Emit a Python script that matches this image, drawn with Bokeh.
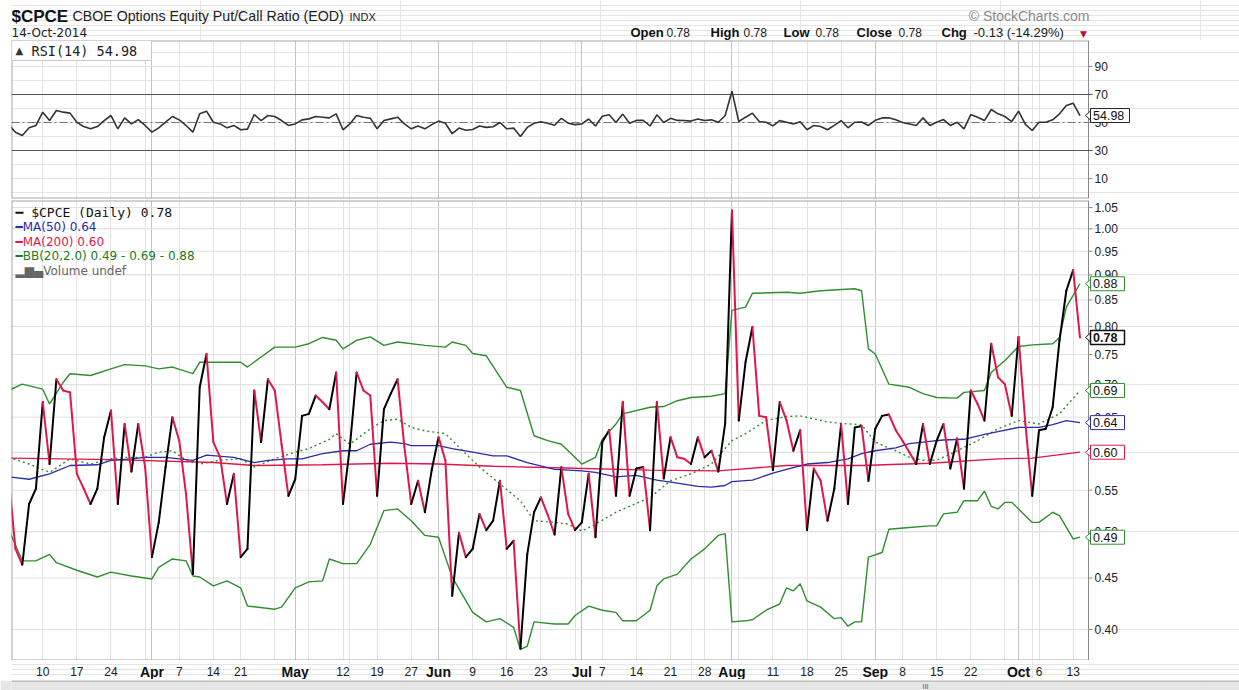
import math
import pandas as pd
from bokeh.plotting import figure
from bokeh.layouts import column
from bokeh.models import Range1d, FixedTicker, Label, Grid, LogScale
from bokeh.core.properties import value
from bokeh.embed import file_html
from bokeh.resources import INLINE

# ---------------- data ----------------
START, END = "2014-03-03", "2014-10-14"
HOLIDAYS = ["2014-04-18", "2014-05-26", "2014-07-04", "2014-09-01"]
dates = [d for d in pd.bdate_range(START, END) if d.strftime("%Y-%m-%d") not in HOLIDAYS]
idx = list(range(len(dates)))

close = [0.567, 0.481, 0.464, 0.533, 0.552, 0.673, 0.584, 0.709, 0.691, 0.688,
         0.571, 0.552, 0.533, 0.552, 0.621, 0.660, 0.533, 0.640, 0.574, 0.640,
         0.580, 0.472, 0.511, 0.580, 0.650, 0.616, 0.545, 0.454, 0.696, 0.751,
         0.614, 0.593, 0.533, 0.571, 0.472, 0.481, 0.691, 0.614, 0.709, 0.691,
         0.611, 0.543, 0.564, 0.652, 0.655, 0.683, 0.673, 0.662, 0.720, 0.533,
         0.607, 0.720, 0.691, 0.683, 0.543, 0.662, 0.686, 0.709, 0.607, 0.533,
         0.562, 0.523, 0.576, 0.621, 0.589, 0.432, 0.499, 0.472, 0.481, 0.521,
         0.502, 0.513, 0.562, 0.481, 0.490, 0.383, 0.475, 0.523, 0.541, 0.520,
         0.497, 0.580, 0.521, 0.502, 0.511, 0.571, 0.494, 0.614, 0.631, 0.543,
         0.673, 0.543, 0.578, 0.580, 0.502, 0.673, 0.565, 0.621, 0.593, 0.591,
         0.584, 0.621, 0.593, 0.602, 0.574, 0.640, 1.043, 0.645, 0.738, 0.799,
         0.652, 0.650, 0.576, 0.673, 0.645, 0.602, 0.631, 0.502, 0.578, 0.562,
         0.513, 0.552, 0.640, 0.533, 0.635, 0.637, 0.562, 0.633, 0.652, 0.654,
         0.631, 0.616, 0.600, 0.584, 0.640, 0.584, 0.616, 0.640, 0.578, 0.619,
         0.552, 0.691, 0.670, 0.645, 0.769, 0.712, 0.701, 0.652, 0.781, 0.640,
         0.543, 0.631, 0.633, 0.665, 0.775, 0.868, 0.910, 0.780]

rsi = [48.5, 43.1, 40.7, 46.2, 47.9, 57.4, 51.4, 58.6, 57.4, 56.7,
       50.2, 47.1, 45.5, 47.1, 51.4, 55.0, 45.5, 53.3, 49.0, 52.1,
       47.9, 43.1, 46.2, 50.2, 54.3, 51.9, 47.9, 43.1, 56.2, 58.1,
       50.2, 49.0, 46.2, 47.9, 44.8, 45.3, 55.7, 51.4, 55.0, 54.3,
       51.4, 47.9, 49.0, 51.9, 52.6, 54.3, 53.8, 53.3, 56.2, 44.8,
       49.0, 55.0, 53.8, 53.1, 45.5, 51.4, 52.6, 53.8, 49.0, 45.5,
       47.5, 45.5, 48.5, 51.0, 49.5, 42.0, 46.0, 44.5, 45.0, 47.5,
       46.5, 47.0, 50.0, 45.5, 46.0, 40.0, 46.5, 49.5, 50.5, 49.5,
       48.0, 53.0, 49.5, 48.5, 49.0, 52.5, 47.5, 54.5, 55.5, 50.0,
       56.0, 49.5, 51.5, 51.6, 47.5, 55.5, 50.0, 53.0, 51.5, 51.4,
       51.0, 52.5, 51.4, 51.9, 50.2, 55.0, 72.4, 50.7, 53.8, 56.7,
       50.7, 50.2, 47.6, 51.4, 50.2, 49.0, 50.5, 44.8, 47.9, 47.1,
       44.8, 47.9, 51.4, 46.2, 50.2, 50.4, 47.9, 51.6, 53.3, 53.4,
       51.9, 50.0, 49.0, 47.9, 53.3, 47.9, 50.2, 52.1, 47.9, 50.2,
       45.5, 55.7, 53.8, 51.4, 59.3, 56.2, 54.3, 50.7, 58.1, 48.6,
       44.3, 50.2, 50.2, 51.9, 56.2, 62.1, 63.8, 54.98]

ma50_x = [0, 3, 6, 9, 13, 15, 18, 20, 23, 27, 29, 33, 36, 38, 41, 43, 46, 49, 51, 53,
          56, 58, 59, 63, 65, 68, 71, 73, 76, 80, 84, 86, 89, 92, 95, 98, 101, 103, 105, 106,
          109, 112, 114, 117, 120, 123, 125, 127, 130, 132, 135, 137, 140, 143, 145, 148, 151, 153, 155, 157]
ma50_y = [0.567, 0.564, 0.571, 0.582, 0.583, 0.589, 0.591, 0.593, 0.593, 0.589, 0.596, 0.593, 0.586, 0.589,
          0.591, 0.591, 0.598, 0.602, 0.602, 0.611, 0.614, 0.612, 0.609, 0.609, 0.605, 0.600, 0.595, 0.595,
          0.586, 0.577, 0.575, 0.573, 0.567, 0.569, 0.563, 0.559, 0.555, 0.554, 0.556, 0.561, 0.563, 0.572,
          0.577, 0.584, 0.586, 0.591, 0.598, 0.602, 0.606, 0.612, 0.615, 0.617, 0.618, 0.625, 0.629, 0.635,
          0.635, 0.639, 0.645, 0.642]

ma200_x = [0, 15, 30, 36, 46, 56, 63, 71, 80, 94, 104, 114, 125, 135, 145, 150, 157]
ma200_y = [0.592, 0.590, 0.586, 0.582, 0.583, 0.585, 0.584, 0.581, 0.579, 0.576, 0.575, 0.582, 0.582,
           0.585, 0.591, 0.592, 0.600]

bb_up_x = [0, 2, 5, 6, 8, 9, 12, 15, 17, 20, 22, 24, 27, 28, 31, 34, 35, 37, 39, 42, 44, 46, 48, 49, 51,
           53, 55, 57, 61, 64, 65, 67, 68, 70, 73, 75, 77, 79, 81, 84, 86, 87, 89, 90, 94, 96, 98, 100, 103,
           105, 106, 108, 109, 114, 116, 119, 124, 125, 126, 127, 129, 132, 134, 136, 139, 140, 143, 144,
           146, 148, 150, 153, 154, 155, 157]
bb_up_y = [0.691, 0.701, 0.693, 0.670, 0.704, 0.718, 0.715, 0.726, 0.733, 0.731, 0.726, 0.729, 0.718, 0.737,
           0.737, 0.737, 0.729, 0.746, 0.763, 0.763, 0.769, 0.780, 0.775, 0.760, 0.775, 0.781, 0.766, 0.772,
           0.766, 0.763, 0.772, 0.766, 0.752, 0.748, 0.696, 0.691, 0.623, 0.616, 0.611, 0.584, 0.593, 0.618,
           0.640, 0.655, 0.665, 0.666, 0.675, 0.680, 0.682, 0.686, 0.830, 0.836, 0.863, 0.865, 0.863, 0.868,
           0.872, 0.868, 0.760, 0.751, 0.701, 0.696, 0.686, 0.680, 0.679, 0.688, 0.691, 0.720, 0.740, 0.764,
           0.767, 0.769, 0.780, 0.836, 0.882]

bb_mid_x = [0, 3, 6, 9, 12, 15, 17, 20, 22, 24, 26, 28, 31, 34, 36, 39, 42, 44, 47, 48, 50, 53, 55, 57, 59,
            61, 64, 66, 69, 72, 75, 77, 80, 82, 84, 86, 89, 94, 97, 100, 103, 106, 108, 111, 114, 116, 120,
            123, 125, 127, 130, 132, 134, 136, 139, 142, 145, 148, 151, 154, 157]
bb_mid_y = [0.593, 0.584, 0.573, 0.591, 0.584, 0.591, 0.593, 0.593, 0.600, 0.602, 0.589, 0.584, 0.589, 0.591,
            0.580, 0.591, 0.600, 0.605, 0.618, 0.626, 0.611, 0.633, 0.645, 0.647, 0.635, 0.630, 0.626, 0.607,
            0.580, 0.558, 0.537, 0.513, 0.511, 0.509, 0.501, 0.509, 0.523, 0.541, 0.562, 0.571, 0.584, 0.616,
            0.626, 0.645, 0.651, 0.652, 0.643, 0.640, 0.639, 0.614, 0.602, 0.593, 0.589, 0.589, 0.602, 0.616,
            0.633, 0.645, 0.640, 0.655, 0.691]

bb_lo_x = [0, 2, 4, 6, 7, 10, 13, 15, 18, 21, 22, 24, 26, 27, 28, 30, 32, 34, 35, 39, 40, 42, 44, 46, 47,
           49, 51, 53, 55, 57, 59, 61, 63, 65, 66, 68, 70, 72, 74, 75, 76, 77, 80, 82, 83, 85, 87, 89, 90,
           92, 94, 95, 96, 98, 100, 102, 104, 105, 106, 108, 109, 111, 113, 114, 115, 116, 117, 119, 121,
           122, 123, 124, 125, 126, 128, 129, 132, 135, 136, 137, 139, 140, 142, 143, 144, 145, 146, 147,
           148, 150, 151, 153, 154, 156, 157]
bb_lo_y = [0.503, 0.468, 0.468, 0.475, 0.466, 0.458, 0.451, 0.456, 0.452, 0.449, 0.461, 0.470, 0.468, 0.452,
           0.451, 0.442, 0.447, 0.440, 0.422, 0.419, 0.421, 0.440, 0.446, 0.447, 0.470, 0.465, 0.465, 0.486,
           0.525, 0.527, 0.513, 0.496, 0.494, 0.451, 0.439, 0.416, 0.407, 0.410, 0.402, 0.382, 0.385, 0.407,
           0.405, 0.405, 0.413, 0.422, 0.418, 0.416, 0.408, 0.408, 0.418, 0.442, 0.449, 0.454, 0.470, 0.481,
           0.496, 0.498, 0.407, 0.408, 0.409, 0.418, 0.424, 0.440, 0.437, 0.444, 0.427, 0.421, 0.410, 0.411,
           0.403, 0.407, 0.407, 0.472, 0.477, 0.503, 0.505, 0.507, 0.507, 0.521, 0.523, 0.537, 0.537, 0.549,
           0.530, 0.527, 0.535, 0.535, 0.527, 0.511, 0.511, 0.523, 0.519, 0.492, 0.494]

day_tick_dates = ["2014-03-10", "2014-03-17", "2014-03-24", "2014-04-07", "2014-04-14", "2014-04-21",
                  "2014-05-12", "2014-05-19", "2014-05-27", "2014-06-09", "2014-06-16", "2014-06-23",
                  "2014-07-07", "2014-07-14", "2014-07-21", "2014-07-28", "2014-08-11", "2014-08-18",
                  "2014-08-25", "2014-09-08", "2014-09-15", "2014-09-22", "2014-10-06", "2014-10-13"]
day_tick_text = ["10", "17", "24", "7", "14", "21", "12", "19", "27", "9", "16", "23",
                 "7", "14", "21", "28", "11", "18", "25", "8", "15", "22", "6", "13"]
month_tick_dates = ["2014-04-01", "2014-05-01", "2014-06-02", "2014-07-01", "2014-08-01", "2014-09-02", "2014-10-01"]
month_tick_text = ["Apr", "May", "Jun", "Jul", "Aug", "Sep", "Oct"]

main_ticks = [0.40, 0.45, 0.50, 0.55, 0.60, 0.65, 0.70, 0.75, 0.80, 0.85, 0.90, 0.95, 1.00, 1.05]
rsi_ticks = [10, 30, 50, 70, 90]

last_open, last_high, last_low, last_close = 0.78, 0.78, 0.78, 0.78
chg, chg_pct = -0.13, -14.29

# ---------------- helpers ----------------
date_str = [d.strftime("%Y-%m-%d") for d in dates]
pos = {s: i for i, s in enumerate(date_str)}
day_tick_idx = [pos[s] for s in day_tick_dates]
month_tick_idx = [pos[s] for s in month_tick_dates]
week_idx = [i for i in idx if i == 0 or dates[i].weekday() <= dates[i - 1].weekday()]

RED = "#e0174a"
BLUE = "#2b2ba6"
GREEN = "#2f8f2f"
GRID = "#e2e2e2"
MGRID = "#c4c4c4"
EDGE = "#a8a8a8"
AX = "Liberation Sans"
LG = "DejaVu Sans"
MONO = "DejaVu Sans Mono"

FW = 1228                      # frame from x=11 to x=1239
S = 157.83 / 1077.0            # trading days per pixel
X0 = 0.42                      # index at x=11
X1 = X0 + 1077 * S             # index at x=1088 (right axis line)
XE = X0 + FW * S               # index at x=1239
xr = Range1d(X0, XE)
Y_BOT, Y_TOP = 0.3726, 1.067
R_BOT, R_TOP = -4.3, 108.6
LOG_PX = 460.0 / math.log(Y_TOP / Y_BOT)
RSI_PX = 158.0 / (R_TOP - R_BOT)


def fx(px):
    return X0 + (px - 11) * S


def main_y(px_from_top):
    return Y_TOP * (Y_BOT / Y_TOP) ** (px_from_top / 460.0)


def rsi_y(px_from_top):
    return R_TOP - px_from_top / RSI_PX


def main_shift(y, dpx):
    return y * math.exp(dpx / LOG_PX)


def rsi_shift(y, dpx):
    return y + dpx / RSI_PX


def panel(frame_h, y_range, ybot, ytop, ticks, labels, log=False, bottom=0):
    p = figure(frame_width=FW, frame_height=frame_h, x_range=xr, y_range=y_range,
               y_axis_type="log" if log else "linear",
               x_axis_location=None, y_axis_location=None, output_backend="svg", toolbar_location=None,
               min_border_left=11, min_border_right=0, min_border_top=0, min_border_bottom=bottom,
               title=None)
    if log:
        p.y_scale = LogScale()
    p.outline_line_color = None
    p.background_fill_color = "white"
    p.add_layout(Grid(dimension=0, ticker=FixedTicker(ticks=week_idx), grid_line_color=GRID))
    p.add_layout(Grid(dimension=0, ticker=FixedTicker(ticks=month_tick_idx), grid_line_color=MGRID))
    n = len(ticks)
    p.segment(x0=[X0] * n, y0=ticks, x1=[X1] * n, y1=ticks, line_color=GRID, line_width=1)
    p.segment(x0=[X0, X0, X0], y0=[ybot, ytop, ybot], x1=[X0, X1, X1], y1=[ytop, ytop, ybot],
              line_color=EDGE, line_width=2)
    p.segment(x0=[X1], y0=[ybot], x1=[X1], y1=[ytop], line_color="#8a8a8a", line_width=1)
    p.segment(x0=[X1] * n, y0=ticks, x1=[fx(1092)] * n, y1=ticks, line_color="#8a8a8a", line_width=1)
    p.text(x=[fx(1094)] * n, y=ticks, text=labels, text_font=value(AX), text_font_size="12px",
           text_color="#222222", text_align="left", text_baseline="middle")
    return p


def tag(p, y, text, color, shift, right_px, bold=False):
    up, dn = shift(y, 7), shift(y, -7)
    p.patch(x=[fx(1085), fx(1090.5), fx(1090.5)], y=[y, shift(y, 5), shift(y, -5)],
            fill_color="white", line_color=color, line_width=1)
    p.quad(left=[fx(1090)], right=[fx(right_px)], bottom=[dn], top=[up], fill_color="white",
           line_color=color, line_width=1.5 if bold else 1)
    p.text(x=[fx(1092.5)], y=[y], text=[text], text_font=value(AX), text_font_size="12.5px",
           text_font_style="bold" if bold else "normal", text_color="#111111",
           text_align="left", text_baseline="middle")


# ---------------- header ----------------
hdr = figure(frame_width=FW, frame_height=40, x_range=Range1d(11, 1239), y_range=Range1d(40, 0),
             x_axis_location=None, y_axis_location=None, output_backend="svg", toolbar_location=None,
             min_border_left=11, min_border_right=0, min_border_top=0, min_border_bottom=0, title=None)
hdr.outline_line_color = None


def htext(x, y, t, size, bold=False, color="#111111", align="left", font=AX):
    hdr.text(x=[x], y=[y], text=[t], text_font=value(font), text_font_size=size,
             text_font_style="bold" if bold else "normal", text_color=color,
             text_align=align, text_baseline="middle")


htext(11, 15.5, "$CPCE", "17px", bold=True)
htext(72, 15.5, "CBOE Options Equity Put/Call Ratio (EOD)", "14.2px", color="#222222")
htext(349, 16, "INDX", "11px", color="#222222")
htext(11, 32, "14-Oct-2014", "12px", color="#222222", font=LG)
htext(1089, 15.5, "\u00a9 StockCharts.com", "14px", color="#8a8a8a", align="right")
htext(630, 32, "Open", "13px", bold=True)
htext(666, 32, f"{last_open:.2f}", "12px", color="#222222")
htext(710, 32, "High", "13px", bold=True)
htext(743, 32, f"{last_high:.2f}", "12px", color="#222222")
htext(783, 32, "Low", "13px", bold=True)
htext(815, 32, f"{last_low:.2f}", "12px", color="#222222")
htext(856, 32, "Close", "13px", bold=True)
htext(898, 32, f"{last_close:.2f}", "12px", color="#222222")
htext(941, 32, "Chg", "13px", bold=True)
htext(973, 32, f"{chg:.2f} ({chg_pct:.2f}%)", "13px", color="#222222")
htext(1083, 33, "\u25bc", "9px", color="#c0102a", font=LG, align="center")

# ---------------- RSI panel ----------------
pr = panel(158, Range1d(R_BOT, R_TOP), R_BOT, R_TOP, rsi_ticks, [str(t) for t in rsi_ticks], bottom=2)
pr.segment(x0=[X0, X0], y0=[70, 30], x1=[fx(1092), fx(1092)], y1=[70, 30], line_color="#555555", line_width=1)
pr.segment(x0=[X0], y0=[50], x1=[X1], y1=[50], line_color="#777777", line_width=1, line_dash="8 3 2 3")
pr.line(idx, rsi, line_color="#333333", line_width=1.6)
pr.quad(left=[X0], right=[fx(151)], bottom=[rsi_y(20)], top=[R_TOP], fill_color="white",
        line_color="#c8c8c8", line_width=1)
pr.text(x=[fx(15)], y=[rsi_y(10)], text=["\u25b2"], text_font=value(LG), text_font_size="10px",
        text_color="#333333", text_align="left", text_baseline="middle")
pr.text(x=[fx(31)], y=[rsi_y(10)], text=[f"RSI(14) {rsi[-1]:.2f}"], text_font=value(MONO),
        text_font_size="13.5px", text_color="#222222", text_align="left", text_baseline="middle")
tag(pr, rsi[-1], f"{rsi[-1]:.2f}", "#222222", rsi_shift, 1129)

# ---------------- main panel ----------------
pm = panel(460, Range1d(Y_BOT, Y_TOP), Y_BOT, Y_TOP, main_ticks, [f"{t:.2f}" for t in main_ticks], log=True)

pm.line(bb_up_x, bb_up_y, line_color=GREEN, line_width=1.4)
pm.line(bb_lo_x, bb_lo_y, line_color=GREEN, line_width=1.4)
pm.line(bb_mid_x, bb_mid_y, line_color=GREEN, line_width=1.4, line_dash="2 3")
pm.line(ma200_x, ma200_y, line_color=RED, line_width=1.3)
pm.line(ma50_x, ma50_y, line_color=BLUE, line_width=1.3)

seg_color = ["#000000" if b > a else RED for a, b in zip(close[:-1], close[1:])]
pm.segment(x0=idx[:-1], y0=close[:-1], x1=idx[1:], y1=close[1:], line_color=seg_color,
           line_width=2, line_cap="round")

leg = [("\u2501 $CPCE (Daily) " + f"{close[-1]:.2f}", "#111111", MONO, "13px"),
       ("\u2501MA(50) " + f"{ma50_y[-1]:.2f}", BLUE, LG, "12px"),
       ("\u2501MA(200) " + f"{ma200_y[-1]:.2f}", RED, LG, "12px"),
       ("\u2501BB(20,2.0) " + f"{bb_lo_y[-1]:.2f} - {bb_mid_y[-1]:.2f} - {bb_up_y[-1]:.2f}", "#1f7a1f", LG, "12px"),
       ("\u2582\u2586\u2584Volume undef", "#666666", LG, "12px")]
for k, (t, c, f, sz) in enumerate(leg):
    pm.add_layout(Label(x=fx(15), y=main_y(12 + 14.5 * k), text=t, text_font=f, text_font_size=sz,
                        text_color=c, text_align="left", text_baseline="middle"))

tag(pm, bb_up_y[-1], f"{bb_up_y[-1]:.2f}", GREEN, main_shift, 1124)
tag(pm, bb_mid_y[-1], f"{bb_mid_y[-1]:.2f}", GREEN, main_shift, 1124)
tag(pm, ma50_y[-1], f"{ma50_y[-1]:.2f}", BLUE, main_shift, 1124)
tag(pm, ma200_y[-1], f"{ma200_y[-1]:.2f}", RED, main_shift, 1124)
tag(pm, bb_lo_y[-1], f"{bb_lo_y[-1]:.2f}", GREEN, main_shift, 1124)
tag(pm, close[-1], f"{close[-1]:.2f}", "#111111", main_shift, 1124, bold=True)

# ---------------- x labels strip ----------------
px = figure(frame_width=FW, frame_height=19, x_range=xr, y_range=Range1d(0, 19),
            x_axis_location=None, y_axis_location=None, output_backend="svg", toolbar_location=None,
            min_border_left=11, min_border_right=0, min_border_top=0, min_border_bottom=0, title=None)
px.outline_line_color = None
px.text(x=day_tick_idx, y=[8] * len(day_tick_idx), text=day_tick_text, text_font=value(AX),
        text_font_size="12px", text_color="#222222", text_align="center", text_baseline="middle")
px.text(x=month_tick_idx, y=[8] * len(month_tick_idx), text=month_tick_text, text_font=value(AX),
        text_font_size="14px", text_font_style="bold", text_color="#111111", text_align="center",
        text_baseline="middle")

# ---------------- scrollbar ----------------
sb = figure(frame_width=FW, frame_height=11, x_range=Range1d(11, 1239), y_range=Range1d(0, 11),
            x_axis_location=None, y_axis_location=None, output_backend="svg", toolbar_location=None,
            min_border_left=11, min_border_right=0, min_border_top=0, min_border_bottom=0, title=None)
sb.background_fill_color = "#e6e6e6"
sb.border_fill_color = "#e6e6e6"
sb.outline_line_color = None
sb.segment(x0=[11], y0=[10.5], x1=[1239], y1=[10.5], line_color="#9a9a9a", line_width=1)
sb.text(x=[925], y=[5], text=["III"], text_font=value(AX), text_font_size="8px", text_color="#666666",
        text_align="center", text_baseline="middle")

layout = column(hdr, pr, pm, px, sb, spacing=0)
open("out.html", "w").write(file_html(layout, INLINE, title="$CPCE"))
